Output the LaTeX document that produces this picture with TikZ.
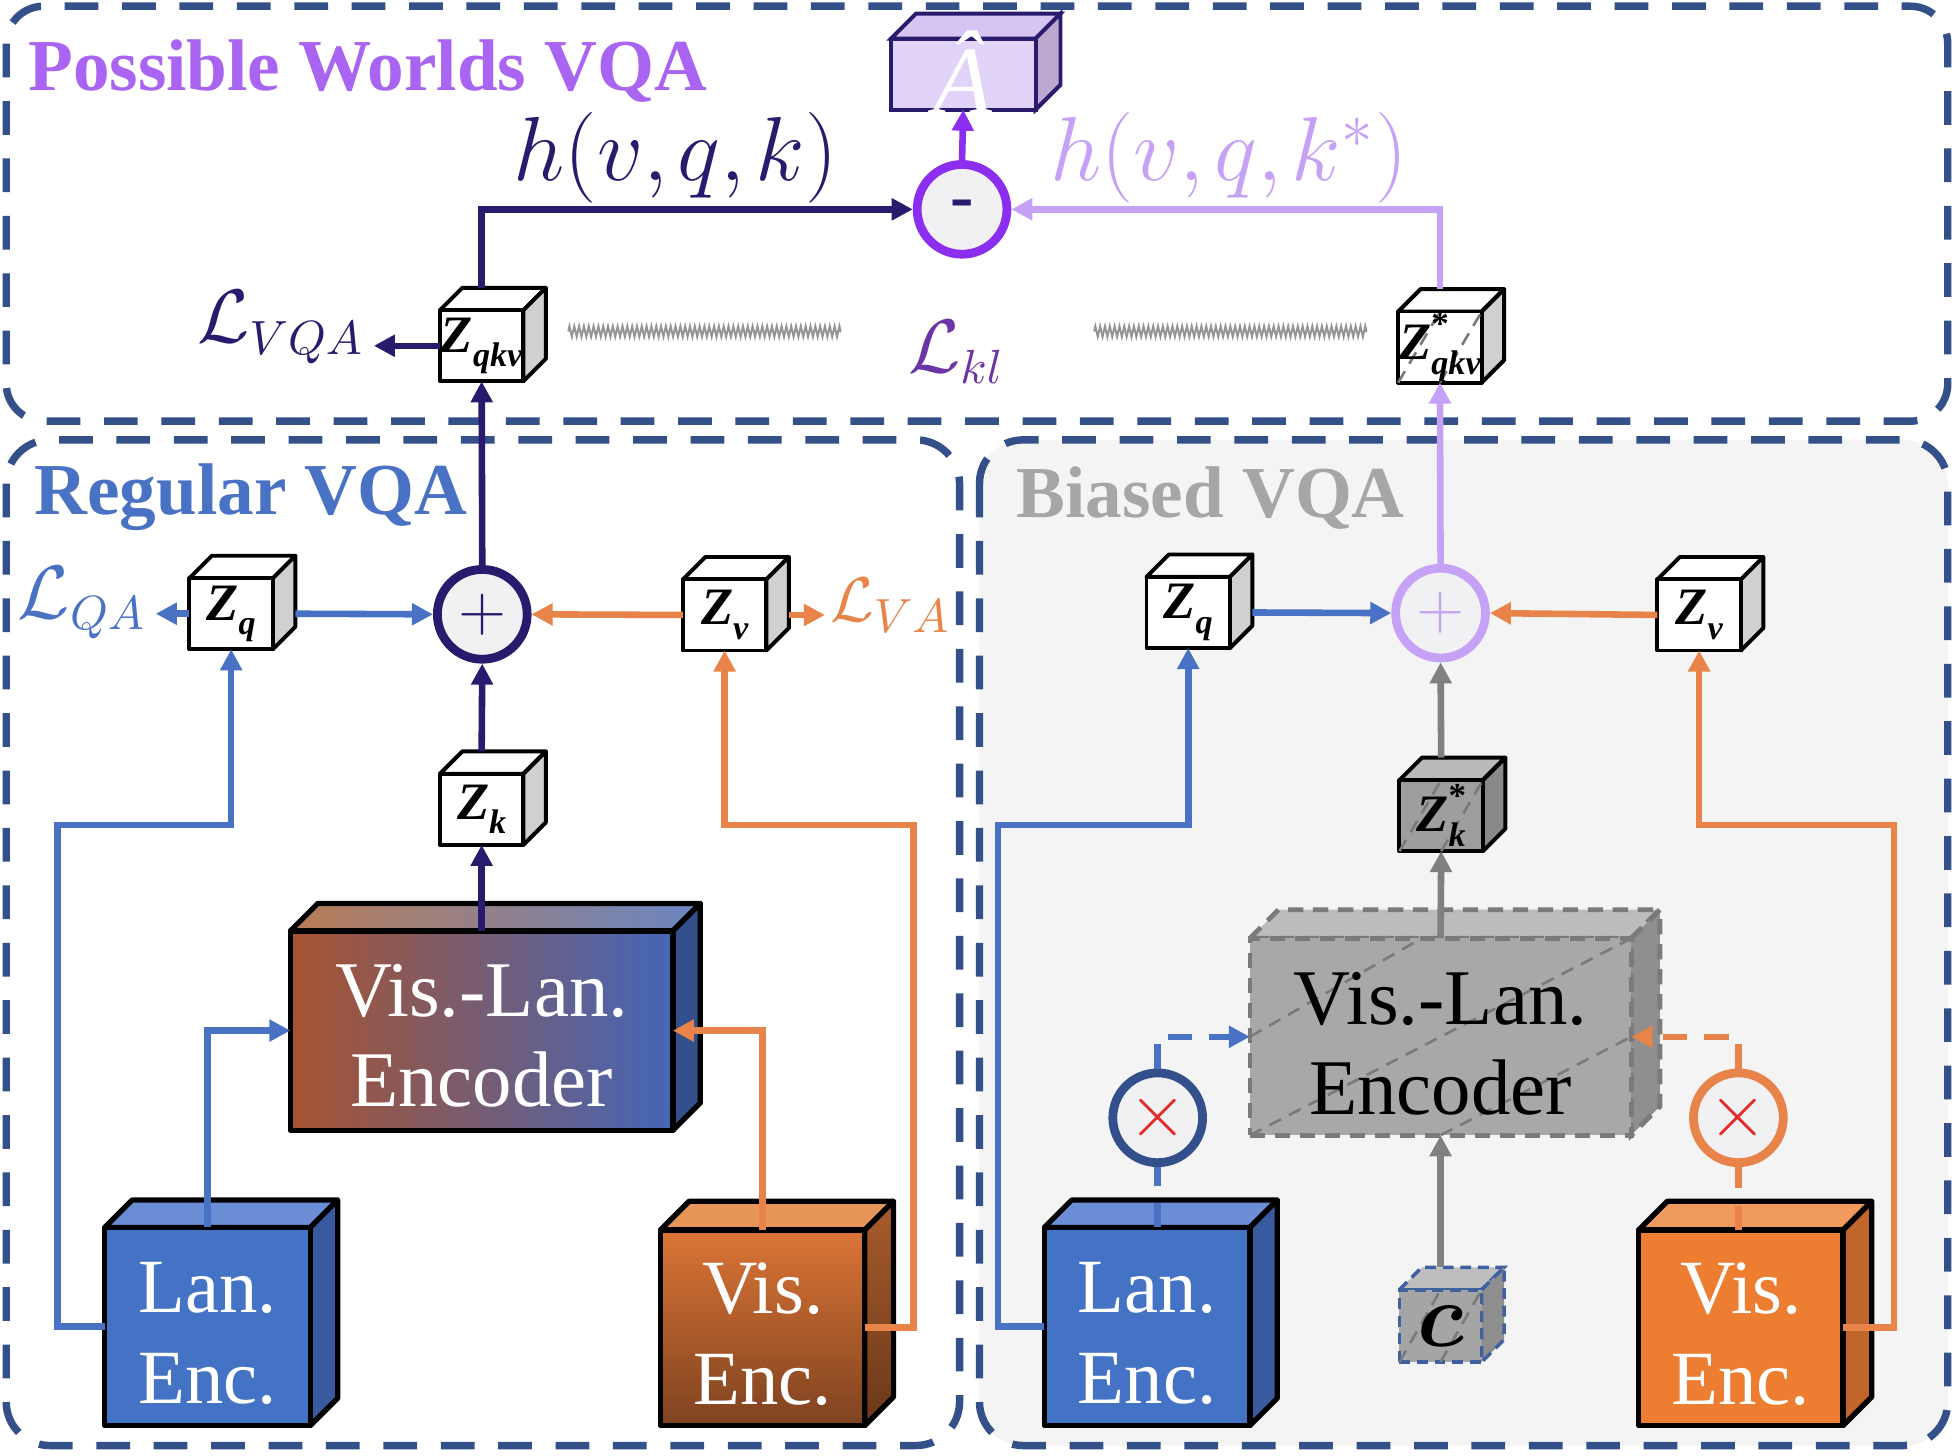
\documentclass[tikz,border=0pt]{standalone}
\usepackage{fontspec}
\setmainfont{Liberation Serif}
\usepackage{amsmath,bm}
\usetikzlibrary{arrows.meta,calc,decorations.pathmorphing}
\definecolor{navy}{HTML}{2A1A6E}
\definecolor{vpurple}{HTML}{8C2EF0}
\definecolor{lpurple}{HTML}{C6A2F6}
\definecolor{ptitle}{HTML}{A964F2}
\definecolor{bl}{HTML}{4A72C4}
\definecolor{og}{HTML}{E8844A}
\definecolor{frameblue}{HTML}{345088}
\definecolor{lklc}{HTML}{6B35A5}
\definecolor{gtitle}{HTML}{A6A6A6}
\definecolor{garr}{HTML}{808080}
\definecolor{springc}{HTML}{959595}
\definecolor{circfill}{HTML}{F1F1F3}
\definecolor{mulred}{HTML}{E42B2B}
\definecolor{mulblue}{HTML}{34508C}
\definecolor{lanfront}{HTML}{4472C4}
\definecolor{lantop}{HTML}{6A8DD6}
\definecolor{lanside}{HTML}{3A5AA0}
\definecolor{visBfront}{HTML}{ED7D31}
\definecolor{visBtop}{HTML}{F09A5E}
\definecolor{visBside}{HTML}{C0652C}
\definecolor{visRtopc}{HTML}{DB7536}
\definecolor{visRbot}{HTML}{7E4220}
\definecolor{visRtopface}{HTML}{E8955A}
\definecolor{visRsidetop}{HTML}{A85C2C}
\definecolor{visRsidebot}{HTML}{6A381A}
\definecolor{encRl}{HTML}{A7532F}
\definecolor{encRr}{HTML}{4466B8}
\definecolor{encRtl}{HTML}{B97C55}
\definecolor{encRtr}{HTML}{6A86C4}
\definecolor{encRside}{HTML}{33508C}
\definecolor{encBf}{HTML}{A8A8A8}
\definecolor{encBt}{HTML}{BCBCBC}
\definecolor{encBs}{HTML}{8F8F8F}
\definecolor{encBd}{HTML}{7A7A7A}
\definecolor{zskf}{HTML}{9E9E9E}
\definecolor{zskt}{HTML}{BABABA}
\definecolor{zsks}{HTML}{888888}
\definecolor{cbf}{HTML}{A5A5A5}
\definecolor{cbt}{HTML}{BEBEBE}
\definecolor{cbs}{HTML}{8E8E8E}
\definecolor{cblue}{HTML}{4060A0}
\definecolor{ahf}{HTML}{E2D3F8}
\definecolor{aht}{HTML}{D6C5F2}
\definecolor{ahs}{HTML}{BCA8CF}
\definecolor{zsidec}{HTML}{D0D0D0}
\definecolor{biasbg}{HTML}{F4F4F4}

% #1 name, #2 left x, #3 top y, #4 w, #5 h, #6 depth, #7 front style, #8 top style, #9 side style
\newcommand\mkcube[9]{%
  \path[#8] (#2,#3) -- ++(#6,-#6) -- ++(#4,0) -- ++(-#6,#6) -- cycle;
  \path[#9] (#2+#4,#3) -- ++(#6,-#6) -- ++(0,#5) -- ++(-#6,#6) -- cycle;
  \node[#7, anchor=north west, minimum width=#4*0.01cm, minimum height=#5*0.01cm,
        inner sep=0pt, outer sep=0pt] (#1) at (#2,#3) {};
}
\newcommand\hatchtwo[1]{%
  \draw[hatch] (#1.south west) -- (#1.north);
  \draw[hatch] (#1.south) -- (#1.north east);
}
\newcommand\zsub[1]{{\fontsize{12}{12}\selectfont\bfseries\itshape Z}\raisebox{-0.3em}{\fontsize{7.8}{8}\selectfont\bfseries\itshape #1}}
\newcommand\zstar[1]{{\fontsize{12}{12}\selectfont\bfseries\itshape Z}\rlap{\raisebox{0.5em}{\fontsize{8}{8}\selectfont\bfseries *}}\raisebox{-0.3em}{\fontsize{7.8}{8}\selectfont\bfseries\itshape #1}}

\begin{document}
\begin{tikzpicture}[x=0.01cm, y=-0.01cm,
  frame/.style={draw=frameblue, line width=1.7pt, dash pattern=on 7.7pt off 5.4pt},
  edge/.style={draw=black, line width=0.9pt, line join=round},
  zfront/.style={edge, fill=white},
  ztop/.style={edge, fill=white},
  zside/.style={edge, fill=zsidec},
  zlab/.style={font=\fontsize{11}{12}\selectfont, inner sep=0pt},
  conn/.style={line width=1.5pt, -{Triangle[length=4.8pt,width=4.8pt]}},
  dconn/.style={line width=1.5pt, dash pattern=on 5.5pt off 4pt},
  hatch/.style={draw=encBd, line width=0.6pt, dash pattern=on 3pt off 2pt},
  circ/.style={circle, minimum size=0.72cm, inner sep=0pt, line width=2pt, fill=circfill},
  title/.style={font=\fontsize{16.7}{20}\selectfont\bfseries, inner sep=0pt},
  lossl/.style={font=\fontsize{16}{19}\selectfont, inner sep=2pt},
  bigtxt/.style={font=\fontsize{18}{20.5}\selectfont, align=center, inner sep=0pt},
  enctxt/.style={font=\fontsize{17.5}{20.8}\selectfont, align=center, inner sep=0pt, text=white},
  spring/.style={draw=springc, line width=0.45pt, decorate,
     decoration={zigzag, segment length=1.1pt, amplitude=1.2pt}}
]
\useasboundingbox[fill=white] (0,0) rectangle (1568,1168);

% ---------- frames ----------
\fill[biasbg, rounded corners=0.35cm] (786,353) rectangle (1563,1160);
\draw[frame, rounded corners=0.3cm] (5,5) rectangle (1563,338);
\draw[frame, rounded corners=0.35cm] (5,353) rectangle (770,1160);
\draw[frame, rounded corners=0.35cm] (786,353) rectangle (1563,1160);

% ---------- titles ----------
\node[title, text=ptitle, anchor=base west] (t1) at (22,73) {Possible Worlds VQA};
\node[title, text=bl, anchor=base west] (t2) at (27,413) {Regular VQA};
\node[title, text=gtitle, anchor=base west] (t3) at (815,415) {Biased VQA};

% ---------- cubes ----------
\mkcube{ahat}{715}{31}{116}{57}{20}{draw=navy, line width=0.9pt, fill=ahf}{draw=navy, line width=0.9pt, fill=aht}{draw=navy, line width=0.9pt, fill=ahs}
\mkcube{zqkv}{353}{249}{67}{57}{18}{zfront}{ztop}{zside}
\mkcube{zsqkv}{1122}{250}{67}{57}{18}{zfront}{ztop}{zside}
\hatchtwo{zsqkv}
\mkcube{zqR}{152}{464}{67}{57}{18}{zfront}{ztop}{zside}
\mkcube{zvR}{548}{465}{67}{57}{18}{zfront}{ztop}{zside}
\mkcube{zkR}{353}{621}{67}{57}{18}{zfront}{ztop}{zside}
\mkcube{encR}{233}{747}{307}{160}{22}{edge, line width=1.2pt, left color=encRl, right color=encRr}{edge, line width=1.2pt, left color=encRtl, right color=encRtr}{edge, line width=1.2pt, fill=encRside}
\mkcube{lanR}{84}{985}{165}{159}{22}{edge, line width=1.2pt, fill=lanfront}{edge, line width=1.2pt, fill=lantop}{edge, line width=1.2pt, fill=lanside}
\mkcube{visR}{530}{987}{164}{157}{23}{edge, line width=1.2pt, top color=visRtopc, bottom color=visRbot}{edge, line width=1.2pt, fill=visRtopface}{edge, line width=1.2pt, top color=visRsidetop, bottom color=visRsidebot}

\mkcube{zqB}{920}{463}{67}{57}{18}{zfront}{ztop}{zside}
\mkcube{zvB}{1330}{465}{67}{57}{18}{zfront}{ztop}{zside}
\mkcube{zskB}{1123}{626}{67}{57}{18}{edge, fill=zskf}{edge, fill=zskt}{edge, fill=zsks}
\hatchtwo{zskB}
\mkcube{encB}{1003}{753}{306}{158}{23}{fill=encBf, draw=encBd, line width=1.1pt, dash pattern=on 3.5pt off 2.2pt}{fill=encBt, draw=encBd, line width=1.1pt, dash pattern=on 3.5pt off 2.2pt}{fill=encBs, draw=encBd, line width=1.1pt, dash pattern=on 3.5pt off 2.2pt}
\draw[hatch] (encB.west) -- ($(encB.north west)!0.45!(encB.north east)$);
\draw[hatch] (encB.south west) -- (encB.north east);
\draw[hatch] ($(encB.south west)!0.5!(encB.south east)$) -- (encB.east);
\mkcube{cB}{1123}{1035}{66}{58}{18}{fill=cbf, draw=cblue, line width=0.8pt, dash pattern=on 2.5pt off 1.5pt}{fill=cbt, draw=cblue, line width=0.8pt, dash pattern=on 2.5pt off 1.5pt}{fill=cbs, draw=cblue, line width=0.8pt, dash pattern=on 2.5pt off 1.5pt}
\hatchtwo{cB}
\mkcube{lanB}{838}{985}{165}{159}{22}{edge, line width=1.2pt, fill=lanfront}{edge, line width=1.2pt, fill=lantop}{edge, line width=1.2pt, fill=lanside}
\mkcube{visB}{1315}{987}{164}{157}{23}{edge, line width=1.2pt, fill=visBfront}{edge, line width=1.2pt, fill=visBtop}{edge, line width=1.2pt, fill=visBside}

% ---------- circles ----------
\node[circ, draw=vpurple, text=navy] (minus) at (772,168) {\fontsize{16}{16}\selectfont\bfseries -};
\node[circ, draw=navy, text=navy] (plusR) at (387,493) {\fontsize{14}{14}\selectfont$+$};
\node[circ, draw=lpurple, text=lpurple] (plusB) at (1156,492) {\fontsize{14}{14}\selectfont$+$};
\node[circ, draw=mulblue, text=mulred] (mulB) at (929,897) {\fontsize{16}{16}\selectfont$\times$};
\node[circ, draw=og, text=mulred] (mulO) at (1395,897) {\fontsize{16}{16}\selectfont$\times$};

% ---------- text labels ----------
\node[font=\fontsize{22}{22}\selectfont\itshape, text=white, inner sep=0pt] (ahat-t) at ([yshift=0.5pt]ahat.center) {Â};
\node[font=\fontsize{20}{22}\selectfont, text=navy, anchor=base, inner sep=0pt] (hk) at (542,145) {$h(v{,}\mkern2mu q{,}\mkern2mu k)$};
\node[font=\fontsize{20}{22}\selectfont, text=lpurple, anchor=base, inner sep=0pt] (hks) at (986,145) {$h(v{,}\mkern2mu q{,}\mkern2mu k^{*})$};
\node[lossl, text=navy, anchor=base east] (lvqa) at (300,275) {$\mathcal{L}_{VQA}$};
\node[lossl, text=lklc, anchor=base west, inner sep=0pt] (lkl) at (728,299) {$\mathcal{L}_{kl}$};
\node[lossl, text=bl, anchor=base east] (lqa) at (125,496) {$\mathcal{L}_{QA}$};
\node[lossl, font=\fontsize{15.2}{18}\selectfont, text=og, anchor=base west, inner sep=1pt] (lva) at (662,499) {$\mathcal{L}_{VA}$};

\node[zlab] (zqkv-t) at (zqkv.center) {\zsub{qkv}};
\node[zlab] (zsqkv-t) at (zsqkv.center) {\zstar{qkv}};
\node[zlab] (zqR-t) at (zqR.center) {\zsub{q}};
\node[zlab] (zvR-t) at (zvR.center) {\zsub{v}};
\node[zlab] (zkR-t) at (zkR.center) {\zsub{k}};
\node[zlab] (zqB-t) at (zqB.center) {\zsub{q}};
\node[zlab] (zvB-t) at (zvB.center) {\zsub{v}};
\node[zlab] (zskB-t) at (zskB.center) {\zstar{k}};
\node[font=\fontsize{22}{22}\selectfont, inner sep=0pt] (cB-t) at (cB.center) {$\bm{c}$};

\node[bigtxt, text=white] (encR-t) at ([yshift=-1.2pt]encR.center) {Vis.-Lan.\\Encoder};
\node[bigtxt, text=black] (encB-t) at ([yshift=-1.5pt]encB.center) {Vis.-Lan.\\Encoder};
\node[enctxt] (lanR-t) at ([yshift=-1.5pt]lanR.center) {Lan.\\Enc.};
\node[enctxt] (visR-t) at ([yshift=-1.5pt]visR.center) {Vis.\\Enc.};
\node[enctxt] (lanB-t) at ([yshift=-1.5pt]lanB.center) {Lan.\\Enc.};
\node[enctxt] (visB-t) at ([yshift=-1.5pt]visB.center) {Vis.\\Enc.};

% ---------- springs ----------
\draw[spring] (456,266) -- (675,266);
\draw[spring] (878,266) -- (1097,266);

% ---------- connectors: top ----------
\draw[conn, color=navy] ($(zqkv.north)+(0,-18)$) |- (minus.west);
\draw[conn, color=lpurple] ($(zsqkv.north)+(0,-18)$) |- (minus.east);
\draw[conn, color=vpurple] (minus.north) -- (ahat.south);
\draw[conn, color=navy] (plusR.north) -- (zqkv.south);
\draw[conn, color=lpurple] (plusB.north) -- (zsqkv.south);
\draw[conn, color=navy] (zqkv.west) -- (zqkv.west -| lvqa.east);

% ---------- connectors: regular ----------
\draw[conn, color=bl] ($(zqR.east)+(18,0)$) -- (plusR.west);
\draw[conn, color=bl] (zqR.west) -- (zqR.west -| lqa.east);
\draw[conn, color=og] (zvR.west) -- (plusR.east);
\draw[conn, color=og] ($(zvR.east)+(18,0)$) -- (zvR.east -| lva.west);
\draw[conn, color=navy] ($(zkR.north)+(0,-18)$) -- (plusR.south);
\draw[conn, color=navy] (encR.north) -- (zkR.south);
\draw[conn, color=bl] (lanR.west) -| (46,662) -| (zqR.south);
\draw[conn, color=bl] (lanR.north) |- (encR.west);
\draw[conn, color=og] (visR.east) -| (733,662) -| (zvR.south);
\draw[conn, color=og] (visR.north) |- (encR.east);

% ---------- connectors: biased ----------
\draw[conn, color=bl] ($(zqB.east)+(18,0)$) -- (plusB.west);
\draw[conn, color=og] (zvB.west) -- (plusB.east);
\draw[conn, color=garr] ($(zskB.north)+(0,-18)$) -- (plusB.south);
\draw[conn, color=garr] (encB.north) -- (zskB.south);
\draw[conn, color=garr] ($(cB.north)+(0,-18)$) -- (encB.south);
\draw[conn, color=bl] (lanB.west) -| (801,662) -| (zqB.south);
\draw[conn, color=og] (visB.east) -| (1520,662) -| (zvB.south);
\draw[dconn, color=bl] (lanB.north -| mulB.south) -- (mulB.south);
\draw[dconn, color=bl, -{Triangle[length=4.8pt,width=4.8pt]}] (mulB.north) |- (encB.west);
\draw[dconn, color=og] (visB.north -| mulO.south) -- (mulO.south);
\draw[dconn, color=og, -{Triangle[length=4.8pt,width=4.8pt]}] (mulO.north) |- (encB.east);
\end{tikzpicture}
\end{document}
